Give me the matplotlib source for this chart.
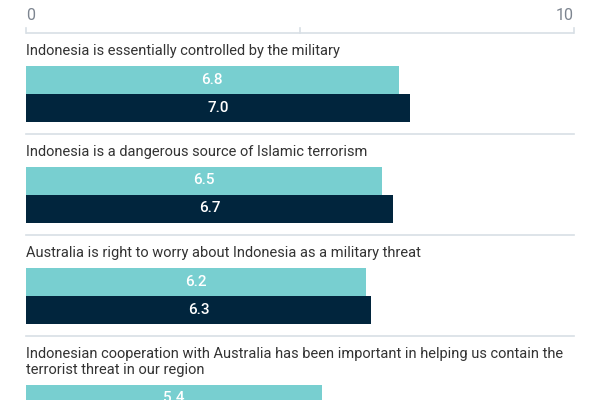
import matplotlib
matplotlib.use("Agg")
import matplotlib.pyplot as plt

categories = [
    "Indonesia is essentially controlled by the military",
    "Indonesia is a dangerous source of Islamic terrorism",
    "Australia is right to worry about Indonesia as a military threat",
    "Indonesian cooperation with Australia has been important in helping us contain the\nterrorist threat in our region",
]
series_a = [6.8, 6.5, 6.2, 5.4]
series_b = [7.0, 6.7, 6.3, 5.6]
x_ticks = [0, 5, 10]
x_tick_labels = ["0", "", "10"]

LIGHT = "#78cfd0"
DARK = "#01253d"
TEXT = "#333333"
TICK = "#7d8590"
LINE = "#d8dfe5"

W, H = 600, 400
left_px, right_px = 26, 574
scale = (right_px - left_px) / 10.0

fig = plt.figure(figsize=(W / 100, H / 100), dpi=100)
ax = fig.add_axes([0, 0, 1, 1])
ax.set_xlim(-left_px / scale, (W - left_px) / scale)
ax.set_ylim(H, 0)
ax.axis("off")

font = "Roboto"

# top axis
axis_y = 33
ax.plot([x_ticks[0], x_ticks[-1]], [axis_y, axis_y], color=LINE, lw=1.2, solid_capstyle="butt")
for t in x_ticks:
    ax.plot([t, t], [axis_y - 5, axis_y], color=LINE, lw=1.2)
ax.text(x_ticks[0], 16, x_tick_labels[0], ha="left", va="center", color=TICK, fontsize=11.5, family=font)
ax.text(x_ticks[-1], 16, x_tick_labels[-1], ha="right", va="center", color=TICK, fontsize=11.5, family=font)

bar_h = 28
line_pitch = 16
y = axis_y
for i, (cat, a, b) in enumerate(zip(categories, series_a, series_b)):
    lines = cat.split("\n")
    label_y = y + 16.5
    for k, ln in enumerate(lines):
        ax.text(0, label_y + k * line_pitch, ln, ha="left", va="center_baseline",
                color=TEXT, fontsize=10.5, family=font)
    bar_top = label_y + (len(lines) - 1) * line_pitch + 16
    ax.barh(bar_top + bar_h / 2, a, height=bar_h, color=LIGHT, left=0)
    ax.barh(bar_top + bar_h * 1.5, b, height=bar_h, color=DARK, left=0)
    ax.text(a / 2, bar_top + bar_h / 2, f"{a:.1f}", ha="center", va="center",
            color="white", fontsize=11, family=font, fontweight="medium")
    ax.text(b / 2, bar_top + bar_h * 1.5, f"{b:.1f}", ha="center", va="center",
            color="white", fontsize=11, family=font, fontweight="medium")
    sep = bar_top + 2 * bar_h + 12.5
    if i < len(categories) - 1:
        ax.plot([0, 10], [sep, sep], color=LINE, lw=1.2)
    y = sep

fig.savefig("out.png", dpi=100)
